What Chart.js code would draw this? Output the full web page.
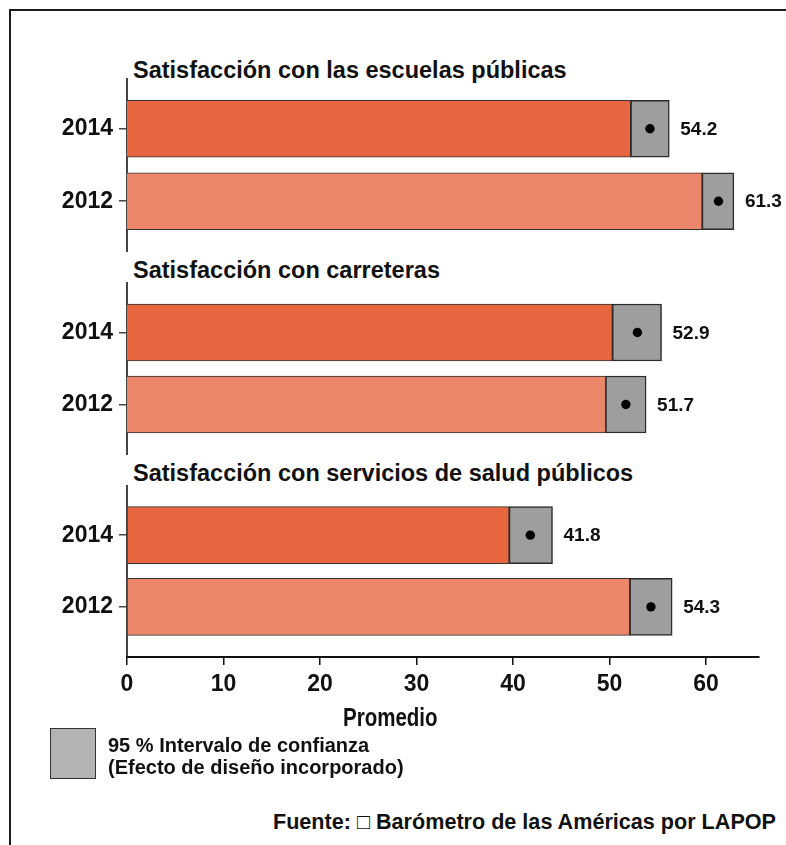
<!DOCTYPE html>
<html>
<head>
<meta charset="utf-8">
<script src="https://cdn.jsdelivr.net/npm/chart.js@4.4.1/dist/chart.umd.min.js"></script>
<style>
  html, body { margin: 0; padding: 0; background: #fff; width: 786px; height: 845px; overflow: hidden; }
  body { position: relative; font-family: "Liberation Sans", Arial, sans-serif; font-weight: bold; color: #111; }
  .frame { position: absolute; left: 9px; top: 9px; width: 900px; height: 900px; border: 2px solid #1a1a1a; }
  canvas { position: absolute; left: 0; }
  .ptitle { position: absolute; left: 133px; font-size: 23.5px; line-height: 26px; white-space: nowrap; }
  .xtitle { position: absolute; left: 343px; top: 703px; font-size: 25px; line-height: 28px; transform: scaleX(0.82); transform-origin: left center; }
  .legbox { position: absolute; left: 50px; top: 728px; width: 44px; height: 49px; background: #b3b3b3; border: 1.5px solid #333; }
  .legtext { position: absolute; left: 108px; top: 734px; font-size: 20px; line-height: 22px; white-space: nowrap; }
  .source { position: absolute; right: 10px; top: 810px; font-size: 21.6px; line-height: 24px; white-space: nowrap; }
</style>
</head>
<body>
<div class="frame"></div>

<div class="ptitle" id="t0" style="top:57px"></div>
<canvas id="c0" width="786" height="174" style="top:78px"></canvas>
<div class="ptitle" id="t1" style="top:257px"></div>
<canvas id="c1" width="786" height="173" style="top:282px"></canvas>
<div class="ptitle" id="t2" style="top:460px"></div>
<canvas id="c2" width="786" height="248" style="top:485px"></canvas>

<div class="xtitle">Promedio</div>
<div class="legbox"></div>
<div class="legtext">95 % Intervalo de confianza<br>(Efecto de diseño incorporado)</div>
<div class="source">Fuente: □ Barómetro de las Américas por LAPOP</div>

<script>
const panelTitles = [
  "Satisfacción con las escuelas públicas",
  "Satisfacción con carreteras",
  "Satisfacción con servicios de salud públicos"
];
const years = ["2014", "2012"];

const mean2014 = [54.2, 52.9, 41.8];
const low2014  = [52.2, 50.3, 39.6];
const high2014 = [56.2, 55.4, 44.1];

const mean2012 = [61.3, 51.7, 54.3];
const low2012  = [59.6, 49.6, 52.1];
const high2012 = [62.9, 53.8, 56.5];

const xTicks = [0, 10, 20, 30, 40, 50, 60];

const barColors = ["#e6673f", "#ec866a"];
const ciColor = "#9e9e9e";
const fontFamily = "'Liberation Sans', Arial, sans-serif";

// dots at the mean + value labels next to the CI box
const meanMarks = {
  id: "meanMarks",
  afterDatasetsDraw(chart, args, opts) {
    const { ctx, scales } = chart;
    ctx.save();
    opts.means.forEach((m, k) => {
      const y = scales.y.getPixelForValue(k + 1);
      const x = scales.x.getPixelForValue(m);
      ctx.beginPath();
      ctx.arc(x, y, 4.7, 0, Math.PI * 2);
      ctx.fillStyle = "#000";
      ctx.fill();
      ctx.font = "bold 19px " + fontFamily;
      ctx.fillStyle = "#111";
      ctx.textBaseline = "middle";
      ctx.textAlign = "left";
      ctx.fillText(m.toFixed(1), scales.x.getPixelForValue(opts.highs[k]) + 11, y + 1);
    });
    ctx.restore();
  }
};

function makePanel(i) {
  document.getElementById("t" + i).textContent = panelTitles[i];
  const means = [mean2014[i], mean2012[i]];
  const lows = [low2014[i], low2012[i]];
  const highs = [high2014[i], high2012[i]];
  const pos = years.map((y, k) => k + 1);
  const showX = i === panelTitles.length - 1;

  const ctx = document.getElementById("c" + i).getContext("2d");
  return new Chart(ctx, {
    type: "bar",
    data: {
      datasets: [
        {
          label: "Intervalo",
          data: pos.map((p, k) => ({ y: p, x: [lows[k], highs[k]] })),
          backgroundColor: ciColor,
          borderColor: "#2b2b2b",
          borderWidth: 1.5,
          borderSkipped: false,
          grouped: false,
          barThickness: 57,
          order: 0
        },
        {
          label: "Promedio",
          data: pos.map((p, k) => ({ y: p, x: [0, lows[k]] })),
          backgroundColor: barColors,
          borderColor: "#333",
          borderWidth: 1,
          borderSkipped: "start",
          grouped: false,
          barThickness: 57,
          order: 1
        }
      ]
    },
    options: {
      indexAxis: "y",
      responsive: false,
      animation: false,
      layout: { padding: { top: 0, right: 27, bottom: 0, left: 0 } },
      plugins: {
        legend: { display: false },
        tooltip: { enabled: false },
        meanMarks: { means, highs }
      },
      scales: {
        y: {
          type: "linear",
          reverse: true,
          offset: false,
          min: 0.3,
          max: 2.7,
          afterBuildTicks: (s) => { s.ticks = pos.map((v) => ({ value: v })); },
          afterFit: (s) => {
            s.width = 127;
            s.paddingTop = 0;
            s.paddingBottom = 0;
          },
          ticks: {
            callback: (v) => years[v - 1],
            color: "#111",
            padding: 6,
            font: { family: fontFamily, size: 23, weight: "bold" }
          },
          grid: { offset: false, drawOnChartArea: false, tickLength: 8, color: "#444", lineWidth: 1.5 },
          border: { color: "#444", width: 2 }
        },
        x: {
          type: "linear",
          min: 0,
          max: 65.5,
          display: showX,
          afterBuildTicks: (s) => { s.ticks = xTicks.map((v) => ({ value: v })); },
          afterFit: (s) => {
            if (showX) s.height = 76;
            s.paddingLeft = 0;
            s.paddingRight = 0;
          },
          ticks: {
            color: "#111",
            padding: 6,
            maxRotation: 0,
            font: { family: fontFamily, size: 23, weight: "bold" }
          },
          grid: { drawOnChartArea: false, tickLength: 8, color: "#111", lineWidth: 1.5 },
          border: { color: "#111", width: 2 }
        }
      }
    },
    plugins: [meanMarks]
  });
}

panelTitles.forEach((t, i) => makePanel(i));
</script>
</body>
</html>
